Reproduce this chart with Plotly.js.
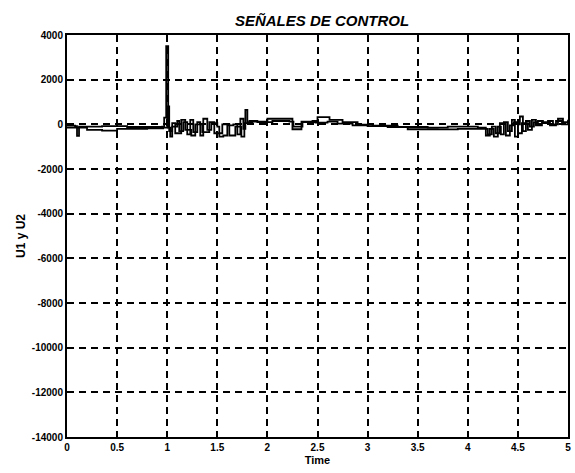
<!DOCTYPE html>
<html>
<head>
<meta charset="utf-8">
<script src="https://cdn.plot.ly/plotly-3.0.1.min.js"></script>
<style>
  html, body { margin: 0; padding: 0; background: #fff; }
  #chart { width: 575px; height: 473px; }
</style>
</head>
<body>
<div id="chart"></div>
<script>
// Control signal U1 (time, value)
const tU1 = [0.00, 0.08, 0.10, 0.12, 0.35, 0.60, 0.95, 0.97, 0.99, 1.01, 1.03, 1.05, 1.10, 1.12, 1.16, 1.20,
  1.23, 1.26, 1.30, 1.33, 1.36, 1.40, 1.44, 1.50, 1.52, 1.56, 1.60, 1.66, 1.70, 1.73, 1.76, 1.78,
  1.80, 1.85, 2.00, 2.20, 2.25, 2.32, 2.34, 2.45, 2.50, 2.62, 2.75, 2.90, 3.05, 3.30, 3.60, 3.80,
  4.10, 4.18, 4.22, 4.26, 4.30, 4.33, 4.36, 4.40, 4.44, 4.47, 4.50, 4.52, 4.55, 4.58, 4.62, 4.66,
  4.70, 4.75, 4.80, 4.85, 4.90, 4.95, 5.00];
const U1 = [-60, -80, -520, -100, -80, -120, -100, 300, 3500, -150, -550, -100, 150, -300, 100, -450,
  200, -350, 100, -500, 250, -250, 50, -100, -550, -500, -50, 0, -450, 250, -200, 650,
  100, 120, 250, 250, -220, -220, 120, 150, 320, 200, 100, -10, -60, -120, -150, -100,
  -150, -500, -200, -550, -100, -450, 100, -300, 200, -550, 0, 350, -300, 150, -100, 100,
  150, 50, 150, 0, 250, 100, 200];

// Control signal U2 (time, value)
const tU2 = [0.00, 0.12, 0.20, 0.35, 0.50, 0.80, 0.96, 1.00, 1.02, 1.05, 1.08, 1.14, 1.18, 1.24, 1.28, 1.35,
  1.42, 1.47, 1.55, 1.62, 1.68, 1.74, 1.77, 1.82, 1.90, 2.05, 2.22, 2.26, 2.35, 2.48, 2.60, 2.70,
  2.85, 3.00, 3.20, 3.40, 3.70, 3.90, 4.15, 4.20, 4.24, 4.28, 4.32, 4.38, 4.42, 4.46, 4.50, 4.54,
  4.60, 4.64, 4.68, 4.74, 4.82, 4.88, 4.94, 5.00];
const U2 = [-150, -150, -250, -280, -200, -180, -150, 800, -300, 50, -400, 200, -250, -500, 0, -350,
  100, -400, 0, -500, -100, -550, 50, 150, 100, 150, 120, -100, 100, 80, 120, 30,
  -50, -80, -120, -220, -230, -200, -200, -450, -100, -400, 50, -500, -50, 100, -400, 50,
  -250, 200, -50, 100, -50, 150, 0, 100];

// Axis ticks
const xTicks = [0, 0.5, 1, 1.5, 2, 2.5, 3, 3.5, 4, 4.5, 5];
const xTickText = ['0', '0.5', '1', '1.5', '2', '2.5', '3', '3.5', '4', '4.5', '5'];
const yTicks = [4000, 2000, 0, -2000, -4000, -6000, -8000, -10000, -12000, -14000];
const yTickText = ['4000', '2000', '0', '-2000', '-4000', '-6000', '-8000', '-10000', '-12000', '-14000'];

const FONT = 'Liberation Sans, Arial, sans-serif';

const traces = [
  { x: tU1, y: U1, name: 'U1', type: 'scatter', mode: 'lines',
    line: { color: '#000', width: 1.8, shape: 'hv' } },
  { x: tU2, y: U2, name: 'U2', type: 'scatter', mode: 'lines',
    line: { color: '#000', width: 1.8, shape: 'hv' } }
];

const axisCommon = {
  showline: true, mirror: true, linecolor: '#000', linewidth: 2,
  showgrid: true, gridcolor: '#000', gridwidth: 2, griddash: '7px,5px',
  zeroline: false, ticks: '',
  tickfont: { family: FONT, size: 10, color: '#000', weight: 'bold' }
};

const layout = {
  width: 575, height: 473,
  margin: { l: 67, r: 7, t: 35, b: 36 },
  paper_bgcolor: '#fff', plot_bgcolor: '#fff',
  showlegend: false,
  title: {
    text: 'SEÑALES DE CONTROL',
    font: { family: FONT, size: 15, color: '#000', weight: 'bold', style: 'italic' },
    x: 0.509, xanchor: 'center', xref: 'paper',
    y: 1 - 21 / 473, yanchor: 'middle', yref: 'container'
  },
  xaxis: Object.assign({}, axisCommon, {
    range: [0, 5], tickvals: xTicks, ticktext: xTickText,
    title: { text: 'Time', font: { family: FONT, size: 11, color: '#000', weight: 'bold' }, standoff: 4 }
  }),
  yaxis: Object.assign({}, axisCommon, {
    range: [-14000, 4000], tickvals: yTicks, ticktext: yTickText,
    title: { text: 'U1 y U2', font: { family: FONT, size: 12, color: '#000', weight: 'bold' }, standoff: 4 }
  })
};

Plotly.newPlot('chart', traces, layout, { staticPlot: true, displayModeBar: false });
</script>
</body>
</html>
